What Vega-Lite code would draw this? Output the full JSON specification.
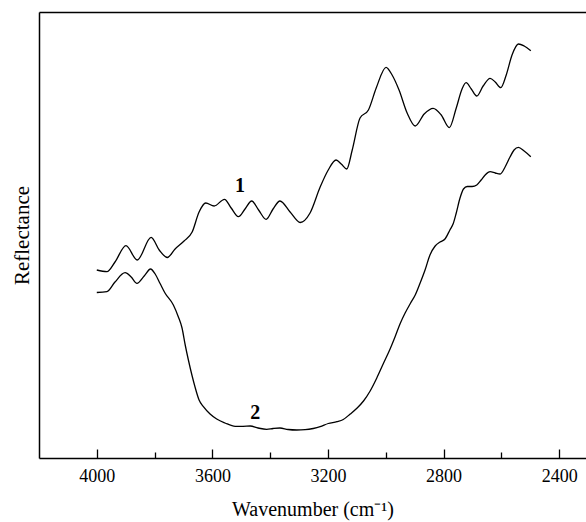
{
  "$schema": "https://vega.github.io/schema/vega-lite/v6.json",
  "autosize": {"type": "none"},
  "padding": {"left": 39, "top": 12, "right": 0, "bottom": 64},
  "width": 547,
  "height": 446,
  "background": "white",
  "config": {
    "view": {"stroke": null},
    "font": "Liberation Serif",
    "axis": {"domainColor": "black", "domainWidth": 1.5, "tickColor": "black", "tickWidth": 1.3, "labelColor": "black", "titleColor": "black", "labelFont": "Liberation Serif", "titleFont": "Liberation Serif", "titleFontWeight": "normal", "grid": false}
  },
  "datasets": {
    "spectra": [
      {"w": 4000, "r": 188, "s": "1"}, {"w": 3965, "r": 186.3, "s": "1"}, {"w": 3937, "r": 196, "s": "1"}, {"w": 3899, "r": 212.3, "s": "1"}, {"w": 3860, "r": 198, "s": "1"}, {"w": 3812, "r": 220.7, "s": "1"}, {"w": 3784, "r": 208, "s": "1"}, {"w": 3756, "r": 200.5, "s": "1"}, {"w": 3729, "r": 209, "s": "1"}, {"w": 3698, "r": 217, "s": "1"}, {"w": 3670, "r": 226, "s": "1"}, {"w": 3646, "r": 246, "s": "1"}, {"w": 3623, "r": 255, "s": "1"}, {"w": 3594, "r": 252, "s": "1"}, {"w": 3558, "r": 258.7, "s": "1"}, {"w": 3535, "r": 250, "s": "1"}, {"w": 3510, "r": 241.3, "s": "1"}, {"w": 3487, "r": 249, "s": "1"}, {"w": 3464, "r": 257, "s": "1"}, {"w": 3440, "r": 248, "s": "1"}, {"w": 3414, "r": 238.7, "s": "1"}, {"w": 3390, "r": 249, "s": "1"}, {"w": 3366, "r": 257, "s": "1"}, {"w": 3331, "r": 246, "s": "1"}, {"w": 3296, "r": 235.5, "s": "1"}, {"w": 3262, "r": 245, "s": "1"}, {"w": 3227, "r": 271, "s": "1"}, {"w": 3199, "r": 288, "s": "1"}, {"w": 3172, "r": 298, "s": "1"}, {"w": 3154, "r": 294, "s": "1"}, {"w": 3135, "r": 289, "s": "1"}, {"w": 3116, "r": 308, "s": "1"}, {"w": 3089, "r": 340, "s": "1"}, {"w": 3060, "r": 348, "s": "1"}, {"w": 3033, "r": 370, "s": "1"}, {"w": 2999, "r": 390.7, "s": "1"}, {"w": 2978, "r": 383, "s": "1"}, {"w": 2954, "r": 368, "s": "1"}, {"w": 2926, "r": 345, "s": "1"}, {"w": 2898, "r": 332, "s": "1"}, {"w": 2867, "r": 344, "s": "1"}, {"w": 2836, "r": 349.7, "s": "1"}, {"w": 2808, "r": 343, "s": "1"}, {"w": 2780, "r": 330.3, "s": "1"}, {"w": 2756, "r": 350, "s": "1"}, {"w": 2736, "r": 369, "s": "1"}, {"w": 2722, "r": 375.3, "s": "1"}, {"w": 2704, "r": 369, "s": "1"}, {"w": 2685, "r": 362, "s": "1"}, {"w": 2663, "r": 372, "s": "1"}, {"w": 2639, "r": 379.7, "s": "1"}, {"w": 2621, "r": 376, "s": "1"}, {"w": 2602, "r": 370.3, "s": "1"}, {"w": 2583, "r": 383, "s": "1"}, {"w": 2563, "r": 403, "s": "1"}, {"w": 2541, "r": 414, "s": "1"}, {"w": 2521, "r": 412, "s": "1"}, {"w": 2498, "r": 407.3, "s": "1"},
      {"w": 4000, "r": 165.5, "s": "2"}, {"w": 3965, "r": 166.3, "s": "2"}, {"w": 3937, "r": 176, "s": "2"}, {"w": 3902, "r": 185.3, "s": "2"}, {"w": 3881, "r": 181, "s": "2"}, {"w": 3861, "r": 174.7, "s": "2"}, {"w": 3836, "r": 182, "s": "2"}, {"w": 3814, "r": 189, "s": "2"}, {"w": 3798, "r": 184, "s": "2"}, {"w": 3781, "r": 174.5, "s": "2"}, {"w": 3764, "r": 165, "s": "2"}, {"w": 3735, "r": 153, "s": "2"}, {"w": 3718, "r": 141.3, "s": "2"}, {"w": 3705, "r": 130, "s": "2"}, {"w": 3694, "r": 113, "s": "2"}, {"w": 3683, "r": 98, "s": "2"}, {"w": 3670, "r": 82, "s": "2"}, {"w": 3660, "r": 71, "s": "2"}, {"w": 3646, "r": 58, "s": "2"}, {"w": 3631, "r": 51.3, "s": "2"}, {"w": 3608, "r": 44, "s": "2"}, {"w": 3585, "r": 39, "s": "2"}, {"w": 3556, "r": 35, "s": "2"}, {"w": 3521, "r": 31.7, "s": "2"}, {"w": 3494, "r": 31.7, "s": "2"}, {"w": 3469, "r": 32, "s": "2"}, {"w": 3442, "r": 30, "s": "2"}, {"w": 3412, "r": 28.7, "s": "2"}, {"w": 3390, "r": 29.5, "s": "2"}, {"w": 3366, "r": 30, "s": "2"}, {"w": 3338, "r": 28.5, "s": "2"}, {"w": 3308, "r": 28, "s": "2"}, {"w": 3279, "r": 28.3, "s": "2"}, {"w": 3251, "r": 29.5, "s": "2"}, {"w": 3227, "r": 31.3, "s": "2"}, {"w": 3199, "r": 34.5, "s": "2"}, {"w": 3169, "r": 36.3, "s": "2"}, {"w": 3147, "r": 38.5, "s": "2"}, {"w": 3123, "r": 44, "s": "2"}, {"w": 3099, "r": 50, "s": "2"}, {"w": 3077, "r": 57, "s": "2"}, {"w": 3054, "r": 67, "s": "2"}, {"w": 3031, "r": 80, "s": "2"}, {"w": 3009, "r": 94, "s": "2"}, {"w": 2985, "r": 109, "s": "2"}, {"w": 2968, "r": 121, "s": "2"}, {"w": 2950, "r": 134.5, "s": "2"}, {"w": 2933, "r": 145, "s": "2"}, {"w": 2915, "r": 154.5, "s": "2"}, {"w": 2898, "r": 163, "s": "2"}, {"w": 2881, "r": 175, "s": "2"}, {"w": 2864, "r": 188, "s": "2"}, {"w": 2847, "r": 203, "s": "2"}, {"w": 2829, "r": 212, "s": "2"}, {"w": 2812, "r": 216, "s": "2"}, {"w": 2795, "r": 219, "s": "2"}, {"w": 2778, "r": 228, "s": "2"}, {"w": 2766, "r": 234.7, "s": "2"}, {"w": 2756, "r": 245, "s": "2"}, {"w": 2743, "r": 260, "s": "2"}, {"w": 2731, "r": 269, "s": "2"}, {"w": 2718, "r": 271.5, "s": "2"}, {"w": 2701, "r": 271.5, "s": "2"}, {"w": 2685, "r": 273, "s": "2"}, {"w": 2670, "r": 278, "s": "2"}, {"w": 2656, "r": 283, "s": "2"}, {"w": 2639, "r": 286.3, "s": "2"}, {"w": 2621, "r": 285, "s": "2"}, {"w": 2604, "r": 284, "s": "2"}, {"w": 2587, "r": 291, "s": "2"}, {"w": 2570, "r": 301, "s": "2"}, {"w": 2556, "r": 308, "s": "2"}, {"w": 2541, "r": 310.7, "s": "2"}, {"w": 2521, "r": 307, "s": "2"}, {"w": 2498, "r": 301.3, "s": "2"}
    ],
    "labels": [
      {"w": 3504, "r": 272, "t": "1"},
      {"w": 3452, "r": 45, "t": "2"}
    ]
  },
  "layer": [
    {
      "data": {"name": "spectra"},
      "mark": {"type": "line", "color": "black", "strokeWidth": 1.3, "interpolate": "monotone"},
      "encoding": {
        "x": {"field": "w", "type": "quantitative", "scale": {"domain": [4200, 2307], "nice": false, "zero": false},
          "axis": {"orient": "bottom", "title": "Wavenumber (cm⁻¹)", "titleFontSize": 20, "titlePadding": 14, "labelFontSize": 18, "labelPadding": 18, "values": [4000, 3800, 3600, 3400, 3200, 3000, 2800, 2600, 2400],
            "labelExpr": "datum.value % 400 == 0 ? datum.label : ''", "format": "d",
            "tickSize": {"condition": {"test": "datum.value % 400 == 0", "value": -9}, "value": -6}}},
        "y": {"field": "r", "type": "quantitative", "scale": {"domain": [0, 446], "nice": false},
          "axis": {"title": "Reflectance", "titleFontSize": 21, "labels": false, "ticks": false, "titlePadding": 7}},
        "detail": {"field": "s"}
      }
    },
    {
      "data": {"name": "labels"},
      "mark": {"type": "text", "fontSize": 20, "fontWeight": "bold", "font": "Liberation Serif", "color": "black", "baseline": "middle", "align": "center"},
      "encoding": {
        "x": {"field": "w", "type": "quantitative", "axis": {"orient": "top", "labels": false, "ticks": false, "title": null}},
        "y": {"field": "r", "type": "quantitative"},
        "text": {"field": "t"}
      }
    }
  ],
  "resolve": {"axis": {"x": "independent"}}
}
